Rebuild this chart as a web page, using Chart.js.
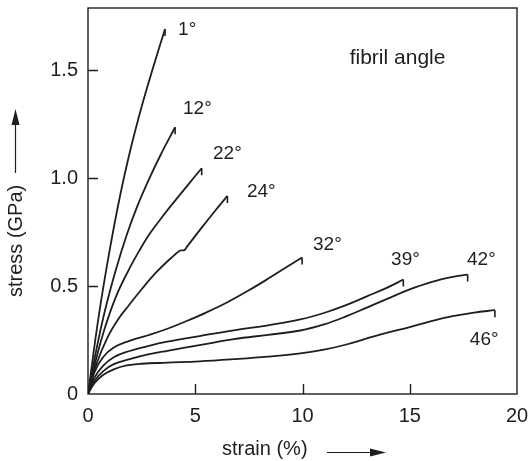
<!DOCTYPE html>
<html>
<head>
<meta charset="utf-8">
<script src="https://cdn.jsdelivr.net/npm/chart.js@4.4.1/dist/chart.umd.min.js"></script>
<style>
  html, body { margin: 0; padding: 0; background: #fff; }
  #wrap { width: 530px; height: 461px; }
</style>
</head>
<body>
<div id="wrap"><canvas id="chart" width="530" height="461"></canvas></div>
<script>
// fibril angle labels and the stress-strain curve of each one: [strain %, stress GPa]
const angleLabels = ['1°', '12°', '22°', '24°', '32°', '39°', '42°', '46°'];

const curve1 = [[0,0],[0.5,0.36],[1.0,0.66],[1.5,0.92],[2.0,1.14],[2.5,1.33],[3.0,1.5],[3.59,1.69]];
const curve12 = [[0,0],[0.4,0.21],[0.8,0.39],[1.3,0.575],[1.8,0.735],[2.3,0.87],[2.8,0.985],[3.4,1.11],[4.06,1.235]];
const curve22 = [[0,0],[0.4,0.17],[0.8,0.31],[1.3,0.45],[1.9,0.575],[2.4,0.665],[2.9,0.745],[3.5,0.825],[4.1,0.9],[4.7,0.973],[5.3,1.045]];
const curve24 = [[0,0],[0.4,0.14],[0.9,0.26],[1.4,0.345],[1.9,0.41],[2.5,0.485],[3.2,0.565],[3.9,0.632],[4.3,0.664],[4.5,0.666],[4.6,0.68],[5.3,0.77],[5.9,0.845],[6.5,0.917]];
const curve32 = [[0,0],[0.3,0.1],[0.7,0.17],[1.2,0.215],[1.9,0.245],[2.8,0.272],[3.7,0.302],[4.6,0.338],[5.5,0.377],[6.5,0.425],[7.5,0.48],[8.5,0.54],[9.3,0.59],[9.98,0.632]];
const curve39 = [[0,0],[0.3,0.075],[0.7,0.13],[1.2,0.17],[1.9,0.198],[2.8,0.222],[3.7,0.242],[5.2,0.268],[6.8,0.295],[8.4,0.318],[9.9,0.345],[11.0,0.375],[12.0,0.41],[13.0,0.452],[14.0,0.495],[14.7,0.53]];
const curve42 = [[0,0],[0.3,0.06],[0.7,0.105],[1.2,0.138],[1.9,0.16],[2.8,0.183],[3.7,0.2],[5.2,0.226],[6.8,0.254],[8.4,0.274],[9.9,0.294],[11.0,0.322],[12.0,0.358],[13.0,0.4],[14.0,0.443],[15.0,0.484],[16.0,0.518],[17.0,0.542],[17.7,0.553]];
const curve46 = [[0,0],[0.3,0.05],[0.7,0.088],[1.2,0.114],[1.8,0.132],[2.5,0.14],[3.7,0.145],[5.2,0.151],[6.8,0.161],[8.4,0.173],[9.9,0.188],[11.0,0.205],[12.0,0.228],[13.0,0.257],[14.0,0.285],[15.0,0.31],[16.0,0.337],[17.0,0.36],[18.0,0.377],[18.97,0.388]];

const curves = [curve1, curve12, curve22, curve24, curve32, curve39, curve42, curve46];

// where each angle label sits (left edge, vertical middle), in data units
const labelAnchors = [[4.2,1.685],[4.43,1.32],[5.83,1.11],[7.41,0.935],[10.49,0.69],[14.13,0.623],[17.67,0.623],[17.8,0.25]];

const xTicks = [0, 5, 10, 15, 20];
const yTicks = [0, 0.5, 1.0, 1.5];

const ink = '#1e1e1e';
const font = '"Liberation Sans", Arial, Helvetica, sans-serif';

// ticks pointing inward, full frame, end marks, labels and axis titles
const extras = {
  id: 'extras',
  afterDatasetsDraw(chart) {
    const ctx = chart.ctx;
    const x = chart.scales.x, y = chart.scales.y;
    const a = chart.chartArea;
    ctx.save();
    ctx.strokeStyle = ink;
    ctx.fillStyle = ink;

    // frame
    ctx.lineWidth = 1.4;
    ctx.strokeRect(a.left, a.top, a.right - a.left, a.bottom - a.top);

    // inward tick marks
    ctx.beginPath();
    yTicks.forEach(v => {
      if (v === 0) return;
      const py = Math.round(y.getPixelForValue(v)) + 0.5;
      ctx.moveTo(a.left, py);
      ctx.lineTo(a.left + 10, py);
    });
    xTicks.forEach(v => {
      if (v === 0 || v === 20) return;
      const px = Math.round(x.getPixelForValue(v)) + 0.5;
      ctx.moveTo(px, a.bottom);
      ctx.lineTo(px, a.bottom - 10);
    });
    ctx.stroke();

    // little end marks on every curve
    ctx.lineWidth = 1.6;
    ctx.beginPath();
    curves.forEach(c => {
      const last = c[c.length - 1];
      const px = x.getPixelForValue(last[0]);
      const py = y.getPixelForValue(last[1]);
      ctx.moveTo(px, py);
      ctx.lineTo(px, py + 7);
    });
    ctx.stroke();

    // angle labels
    ctx.font = '19px ' + font;
    ctx.textAlign = 'left';
    ctx.textBaseline = 'middle';
    angleLabels.forEach((t, i) => {
      ctx.fillText(t, x.getPixelForValue(labelAnchors[i][0]), y.getPixelForValue(labelAnchors[i][1]));
    });
    ctx.font = '21px ' + font;
    ctx.fillText('fibril angle', x.getPixelForValue(12.2), y.getPixelForValue(1.553));

    // x title with arrow
    ctx.font = '20px ' + font;
    ctx.textAlign = 'left';
    ctx.fillText('strain (%)', 222, 449);
    ctx.lineWidth = 1.2;
    ctx.beginPath();
    ctx.moveTo(327, 452.5);
    ctx.lineTo(375, 452.5);
    ctx.stroke();
    ctx.beginPath();
    ctx.moveTo(386, 452.5);
    ctx.lineTo(370, 448.5);
    ctx.lineTo(370, 456.5);
    ctx.closePath();
    ctx.fill();

    // y title with arrow
    ctx.save();
    ctx.translate(16, 297);
    ctx.rotate(-Math.PI / 2);
    ctx.textAlign = 'left';
    ctx.fillText('stress (GPa)', 0, 0);
    ctx.restore();
    ctx.beginPath();
    ctx.moveTo(15.5, 173);
    ctx.lineTo(15.5, 122);
    ctx.stroke();
    ctx.beginPath();
    ctx.moveTo(15.5, 109);
    ctx.lineTo(11.5, 125);
    ctx.lineTo(19.5, 125);
    ctx.closePath();
    ctx.fill();

    ctx.restore();
  }
};

new Chart(document.getElementById('chart'), {
  type: 'line',
  data: {
    datasets: curves.map((c, i) => ({
      label: angleLabels[i],
      data: c.map(p => ({ x: p[0], y: p[1] })),
      borderColor: ink,
      borderWidth: 1.8,
      pointRadius: 0,
      fill: false,
      tension: 0.4
    }))
  },
  options: {
    responsive: false,
    animation: false,
    layout: { padding: { left: 0, right: 13, top: 8, bottom: 0 } },
    plugins: { legend: { display: false }, tooltip: { enabled: false } },
    scales: {
      x: {
        type: 'linear',
        min: 0,
        max: 20,
        afterBuildTicks: s => { s.ticks = xTicks.map(v => ({ value: v })); },
        afterFit: s => { s.height = 67; s.paddingLeft = 0; s.paddingRight = 0; },
        grid: { display: false, drawTicks: false },
        border: { display: false },
        ticks: {
          color: ink,
          padding: 10,
          font: { family: font, size: 20 },
          maxRotation: 0,
          callback: v => String(v)
        }
      },
      y: {
        type: 'linear',
        min: 0,
        max: 1.787,
        afterBuildTicks: s => { s.ticks = yTicks.map(v => ({ value: v })); },
        afterFit: s => { s.width = 88; s.paddingTop = 0; s.paddingBottom = 0; },
        grid: { display: false, drawTicks: false },
        border: { display: false },
        ticks: {
          color: ink,
          padding: 10,
          font: { family: font, size: 20 },
          callback: v => (v === 0 ? '0' : v.toFixed(1))
        }
      }
    }
  },
  plugins: [extras]
});
</script>
</body>
</html>
